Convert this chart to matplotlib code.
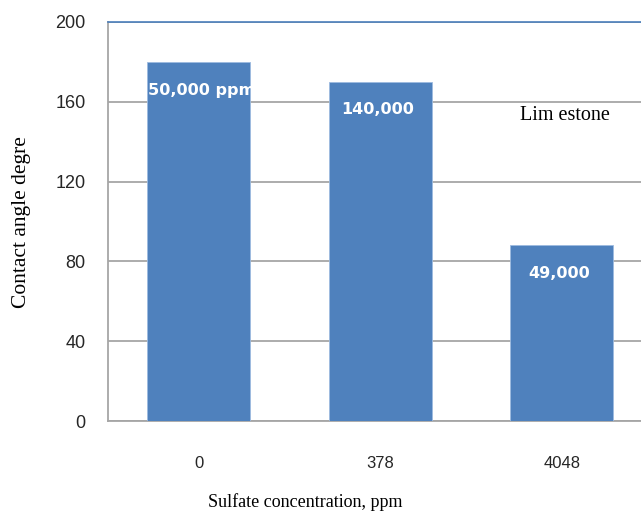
import numpy as np
import matplotlib.pyplot as plt

# contact angle vs sulfate concentration, limestone
categories = ['0', '378', '4048']
contact_angle = [180, 170, 88]
bar_labels = ['150,000 ppm', '140,000', '49,000']
y_ticks = [0, 40, 80, 120, 160, 200]

fig = plt.figure(figsize=(6.41, 5.12), dpi=100)
# plot area runs a little past the right edge of the figure
ax = fig.add_axes([108 / 641, 91 / 512, 544.5 / 641, 399 / 512])

x = np.arange(len(categories))
bars = ax.bar(x, contact_angle, width=0.567, color='#4F81BD',
              edgecolor='#9dbbe0', linewidth=0.6, zorder=3)

# white value labels just inside the top of each bar
for rect, val, lab in zip(bars, contact_angle, bar_labels):
    ax.annotate(lab, (rect.get_x() + rect.get_width() / 2, val),
                xytext=(-2, -23.5), textcoords='offset points',
                ha='center', va='baseline', color='white',
                fontsize=11.5, fontweight='bold', family='DejaVu Sans',
                zorder=4)

ax.set_xlim(-0.5, 2.5)
ax.set_ylim(0, 200)
ax.set_yticks(y_ticks)
ax.set_xticks(x)
ax.set_xticklabels(categories)

for tl in ax.get_yticklabels():
    tl.set_family('Liberation Sans')
    tl.set_fontsize(13)
    tl.set_color('#262626')
for tl in ax.get_xticklabels():
    tl.set_family('Liberation Sans')
    tl.set_fontsize(12)
    tl.set_color('#262626')

ax.tick_params(axis='y', length=0, pad=16)
ax.tick_params(axis='x', length=0, pad=25)

ax.grid(axis='y', color='#a6a6a6', linewidth=1.3, zorder=0)
ax.set_axisbelow(True)

ax.spines['right'].set_visible(False)
ax.spines['top'].set_color('#4a7ebb')
ax.spines['top'].set_linewidth(1.2)
ax.spines['left'].set_color('#a6a6a6')
ax.spines['left'].set_linewidth(1.3)
ax.spines['bottom'].set_color('#a6a6a6')
ax.spines['bottom'].set_linewidth(1.3)

fig.text(565 / 641, 1 - 116 / 512, 'Lim estone', ha='center', va='center',
         fontsize=14.5, family='Liberation Serif', color='black')

fig.text(305 / 641, 1 - 502 / 512, 'Sulfate concentration, ppm',
         ha='center', va='center', fontsize=13, family='Liberation Serif')
fig.text(22 / 641, 1 - 222 / 512, 'Contact angle degre', rotation=90,
         ha='center', va='center', fontsize=15.5, family='Liberation Serif')

fig.savefig('out.png', dpi=100)
